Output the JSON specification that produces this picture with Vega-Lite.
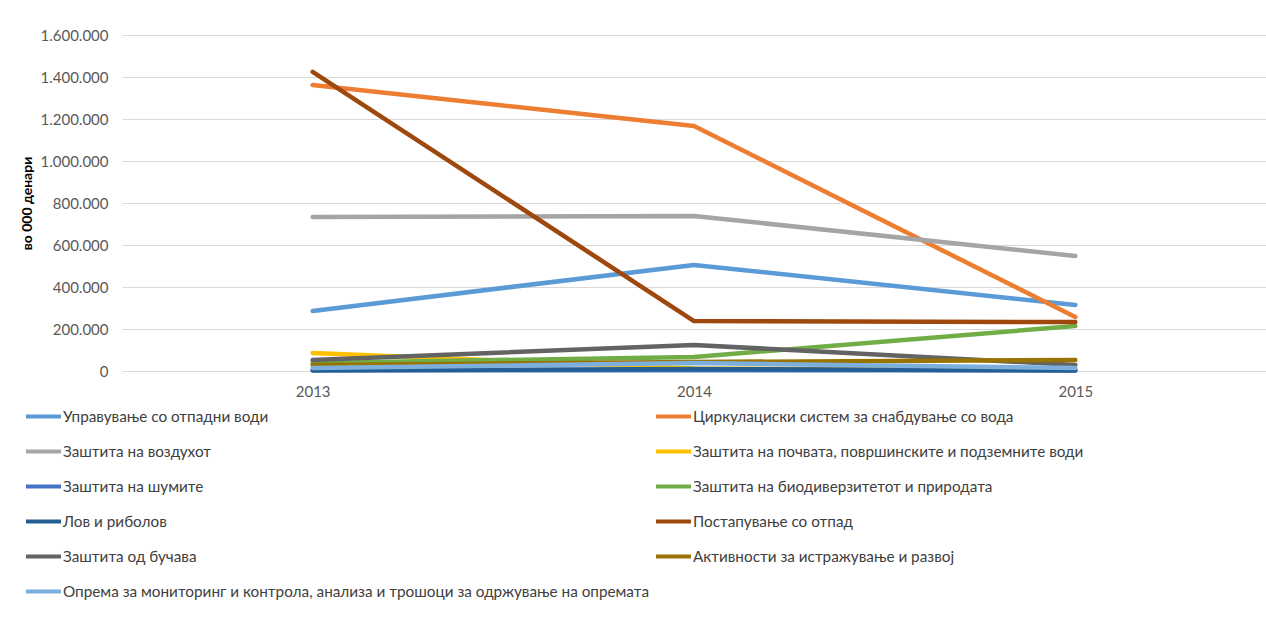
{
  "$schema": "https://vega.github.io/schema/vega-lite/v6.json",
  "width": 1144,
  "height": 336,
  "autosize": {"type": "none"},
  "padding": {"left": 122, "top": 35, "right": 0, "bottom": 246},
  "background": "white",
  "config": {
    "locale": {"number": {"decimal": ",", "thousands": ".", "grouping": [3], "currency": ["", ""]}},
    "view": {"stroke": null},
    "font": "Lato"
  },
  "data": {"values": [
    {"year": "2013", "series": "Управување со отпадни води", "value": 286000},
    {"year": "2014", "series": "Управување со отпадни води", "value": 505000},
    {"year": "2015", "series": "Управување со отпадни води", "value": 314000},
    {"year": "2013", "series": "Циркулациски систем за снабдување со вода", "value": 1362000},
    {"year": "2014", "series": "Циркулациски систем за снабдување со вода", "value": 1167000},
    {"year": "2015", "series": "Циркулациски систем за снабдување со вода", "value": 257000},
    {"year": "2013", "series": "Заштита на воздухот", "value": 733000},
    {"year": "2014", "series": "Заштита на воздухот", "value": 738000},
    {"year": "2015", "series": "Заштита на воздухот", "value": 548000},
    {"year": "2013", "series": "Заштита на почвата, површинските и подземните води", "value": 86000},
    {"year": "2014", "series": "Заштита на почвата, површинските и подземните води", "value": 12000},
    {"year": "2015", "series": "Заштита на почвата, површинските и подземните води", "value": 5000},
    {"year": "2013", "series": "Заштита на шумите", "value": 5000},
    {"year": "2014", "series": "Заштита на шумите", "value": 3000},
    {"year": "2015", "series": "Заштита на шумите", "value": 3000},
    {"year": "2013", "series": "Заштита на биодиверзитетот и природата", "value": 38000},
    {"year": "2014", "series": "Заштита на биодиверзитетот и природата", "value": 67000},
    {"year": "2015", "series": "Заштита на биодиверзитетот и природата", "value": 214000},
    {"year": "2013", "series": "Лов и риболов", "value": 2000},
    {"year": "2014", "series": "Лов и риболов", "value": 10000},
    {"year": "2015", "series": "Лов и риболов", "value": 2000},
    {"year": "2013", "series": "Постапување со отпад", "value": 1424000},
    {"year": "2014", "series": "Постапување со отпад", "value": 238000},
    {"year": "2015", "series": "Постапување со отпад", "value": 233000},
    {"year": "2013", "series": "Заштита од бучава", "value": 52000},
    {"year": "2014", "series": "Заштита од бучава", "value": 124000},
    {"year": "2015", "series": "Заштита од бучава", "value": 29000},
    {"year": "2013", "series": "Активности за истражување и развој", "value": 29000},
    {"year": "2014", "series": "Активности за истражување и развој", "value": 43000},
    {"year": "2015", "series": "Активности за истражување и развој", "value": 52000},
    {"year": "2013", "series": "Опрема за мониторинг и контрола, анализа и трошоци за одржување на опремата", "value": 14000},
    {"year": "2014", "series": "Опрема за мониторинг и контрола, анализа и трошоци за одржување на опремата", "value": 38000},
    {"year": "2015", "series": "Опрема за мониторинг и контрола, анализа и трошоци за одржување на опремата", "value": 14000}
  ]},
  "mark": {"type": "line", "strokeWidth": 4.5, "strokeCap": "round", "strokeJoin": "round"},
  "encoding": {
    "x": {
      "field": "year", "type": "ordinal",
      "scale": {"type": "point", "padding": 0.5},
      "axis": {"title": null, "labelAngle": 0, "domain": false, "ticks": false, "grid": false,
               "labelFontSize": 15, "labelColor": "#595959", "labelPadding": 13}
    },
    "y": {
      "field": "value", "type": "quantitative",
      "scale": {"domain": [0, 1600000], "nice": false},
      "axis": {"title": "во 000 денари", "format": ",d",
               "values": [0, 200000, 400000, 600000, 800000, 1000000, 1200000, 1400000, 1600000],
               "gridColor": "#D9D9D9", "gridWidth": 1, "domain": false, "ticks": false,
               "labelPadding": 14, "labelFontSize": 15, "labelColor": "#595959",
               "titleFontSize": 14, "titleFontWeight": "bold", "titleColor": "#000000", "titlePadding": 6}
    },
    "color": {
      "field": "series", "type": "nominal",
      "scale": {
        "domain": [
          "Управување со отпадни води",
          "Заштита на воздухот",
          "Заштита на шумите",
          "Лов и риболов",
          "Заштита од бучава",
          "Опрема за мониторинг и контрола, анализа и трошоци за одржување на опремата",
          "Циркулациски систем за снабдување со вода",
          "Заштита на почвата, површинските и подземните води",
          "Заштита на биодиверзитетот и природата",
          "Постапување со отпад",
          "Активности за истражување и развој"
        ],
        "range": ["#5B9BD5", "#A5A5A5", "#4472C4", "#255E91", "#636363", "#7CAFDD", "#ED7D31", "#FFC000", "#70AD47", "#9E480E", "#997300"]
      },
      "legend": {
        "title": null, "orient": "none", "legendX": -98, "legendY": 362,
        "columns": 2, "symbolType": "stroke", "symbolSize": 1225, "symbolStrokeWidth": 4,
        "labelFontSize": 15.3, "labelColor": "#404040", "labelLimit": 1000, "labelOffset": 0,
        "rowPadding": 7, "columnPadding": -2
      }
    }
  }
}
